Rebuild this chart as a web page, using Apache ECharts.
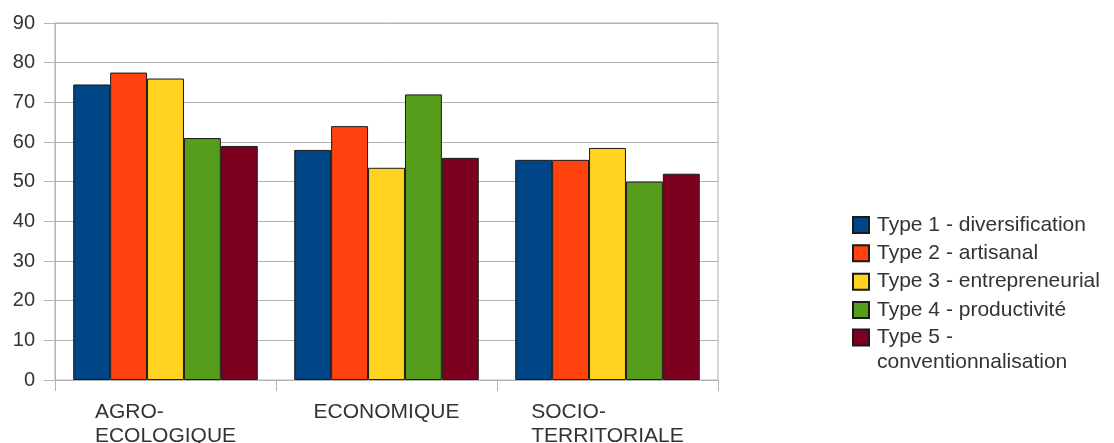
<!DOCTYPE html>
<html>
<head>
<meta charset="utf-8">
<script src="https://cdn.jsdelivr.net/npm/echarts@6/dist/echarts.min.js"></script>
<style>
  html, body { margin: 0; padding: 0; background: #ffffff; }
  #chart { width: 1114px; height: 443px; }
</style>
</head>
<body>
<div id="chart"></div>
<script>
// Scores by dimension for each farm type
const categories = ['AGRO-ECOLOGIQUE', 'ECONOMIQUE', 'SOCIO-TERRITORIALE'];
const seriesNames = [
  'Type 1 - diversification',
  'Type 2 - artisanal',
  'Type 3 - entrepreneurial',
  'Type 4 - productivité',
  'Type 5 - conventionnalisation'
];
const type1 = [74.5, 58, 55.5];
const type2 = [77.5, 64, 55.5];
const type3 = [76, 53.5, 58.5];
const type4 = [61, 72, 50];
const type5 = [59, 56, 52];
const yMin = 0;
const yMax = 90;
const yStep = 10;

const seriesValues = [type1, type2, type3, type4, type5];
const palette = ['#004586', '#ff420e', '#ffd320', '#579d1c', '#7e0021'];

const FONT = 'Liberation Sans, Arial, sans-serif';
const TEXT = '#333333';
const GRID_LINE = '#b3b3b3';

const chart = echarts.init(document.getElementById('chart'), null, { renderer: 'canvas' });

const legendText = {
  fontFamily: FONT,
  fontSize: 21,
  color: TEXT,
  lineHeight: 22,
  padding: [0, 0, 0, 3]
};

chart.setOption({
  animation: false,
  color: palette,
  grid: {
    left: 55,
    right: 396,
    top: 23,
    bottom: 63,
    show: true,
    borderColor: GRID_LINE,
    borderWidth: 1,
    containLabel: false,
    outerBoundsMode: 'none'
  },
  legend: [
    {
      orient: 'vertical',
      left: 852,
      top: 214,
      padding: 0,
      itemWidth: 16,
      itemHeight: 16,
      itemGap: 6.35,
      icon: 'rect',
      data: seriesNames.slice(0, 4),
      textStyle: legendText
    },
    {
      // the long name wraps; an empty first line keeps "Type 5 -" level with its swatch
      orient: 'vertical',
      left: 852,
      top: 300,
      padding: 0,
      itemWidth: 16,
      itemHeight: 16,
      icon: 'rect',
      data: seriesNames.slice(4),
      formatter: name => '\n' + name.replace('- ', '-\n'),
      textStyle: Object.assign({}, legendText, { lineHeight: 25 })
    }
  ],
  xAxis: {
    type: 'category',
    data: categories,
    boundaryGap: true,
    axisLine: { show: true, lineStyle: { color: GRID_LINE, width: 1 } },
    axisTick: { show: true, length: 11, lineStyle: { color: GRID_LINE } },
    axisLabel: {
      margin: 20,
      interval: 0,
      formatter: value => value.split(/(?<=-)/).map(part => '{l|' + part + '}').join('\n'),
      rich: {
        l: {
          align: 'left',
          fontFamily: FONT,
          fontSize: 21,
          lineHeight: 24,
          color: TEXT
        }
      }
    },
    splitLine: { show: false }
  },
  yAxis: {
    type: 'value',
    min: yMin,
    max: yMax,
    interval: yStep,
    axisLine: { show: true, lineStyle: { color: GRID_LINE, width: 1 } },
    axisTick: { show: true, length: 11, lineStyle: { color: GRID_LINE } },
    axisLabel: {
      margin: 20,
      fontFamily: FONT,
      fontSize: 20,
      color: TEXT
    },
    splitLine: { show: true, lineStyle: { color: GRID_LINE, width: 1 } }
  },
  series: seriesNames.map((name, i) => ({
    name: name,
    type: 'bar',
    data: seriesValues[i],
    barGap: '0%',
    barCategoryGap: '16.5%',
    itemStyle: {
      color: palette[i],
      borderColor: '#1a1a1a',
      borderWidth: 1
    },
    emphasis: { disabled: true }
  }))
});
</script>
</body>
</html>
